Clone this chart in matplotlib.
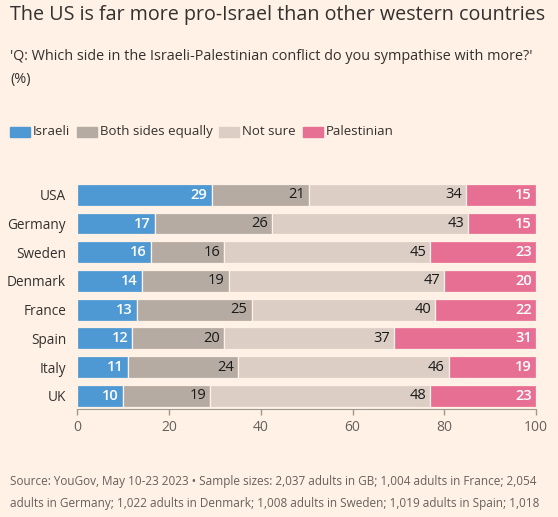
import matplotlib
matplotlib.use("Agg")
import matplotlib.pyplot as plt
from matplotlib.patches import Rectangle

countries = ["USA", "Germany", "Sweden", "Denmark", "France", "Spain", "Italy", "UK"]
# unrounded shares; labels show the rounded values
israeli = [29.3, 16.9, 16, 14, 13, 12, 11, 10]
both = [21.2, 25.6, 16, 19, 25, 20, 24, 19]
not_sure = [34.3, 42.7, 45, 47, 40, 37, 46, 48]
palestinian = [15.2, 14.8, 23, 20, 22, 31, 19, 23]
series_names = ["Israeli", "Both sides equally", "Not sure", "Palestinian"]
xticks = [0, 20, 40, 60, 80, 100]

bg = "#FFF1E5"
colors = ["#4E99D3", "#B5ABA2", "#DCCEC4", "#E86F94"]
label_colors = ["white", "#1A1A1A", "#1A1A1A", "white"]
txt = "#33302E"

plt.rcParams["font.family"] = ["Open Sans", "DejaVu Sans"]

W, H = 558, 517
fig = plt.figure(figsize=(W / 100, H / 100), dpi=100, facecolor=bg)
ax = fig.add_axes([77.3 / W, 1 - 409.3 / H, (536 - 77.3) / W, (409.3 - 180) / H])
ax.set_facecolor(bg)

ypos = list(range(len(countries)))
left = [0] * len(countries)
for vals, col, lc in zip([israeli, both, not_sure, palestinian], colors, label_colors):
    ax.barh(ypos, vals, left=left, height=0.757, color=col, edgecolor=bg, linewidth=0.9)
    for y, l, v in zip(ypos, left, vals):
        ax.text(l + v - 0.9, y, str(round(v)), ha="right", va="center", fontsize=10.5,
                color=lc, fontweight="semibold" if lc == "white" else "normal")
    left = [a + b for a, b in zip(left, vals)]

ax.set_xlim(0, 100)
ax.set_ylim(7.474, -0.52)
ax.set_yticks(ypos)
ax.set_yticklabels(countries, fontsize=9.8, color=txt)
ax.tick_params(axis="y", length=0, pad=8)
ax.set_xticks(xticks)
ax.set_xticklabels([str(t) for t in xticks], fontsize=10, color="#66605C")
ax.tick_params(axis="x", length=4.5, color="#A09890", width=1, pad=3)
for s in ["top", "right", "left"]:
    ax.spines[s].set_visible(False)
ax.spines["bottom"].set_color("#A09890")

fig.text(10 / W, 1 - 15 / H, "The US is far more pro-Israel than other western countries",
         fontsize=14.2, color=txt, va="center", ha="left")
fig.text(10 / W, 1 - 56 / H,
         "'Q: Which side in the Israeli-Palestinian conflict do you sympathise with more?'",
         fontsize=10.4, color=txt, va="center", ha="left")
fig.text(10 / W, 1 - 80 / H, "(%)", fontsize=10.4, color=txt, va="center", ha="left")

# legend
lx = [10, 77, 219, 303]
for x, name, col in zip(lx, series_names, colors):
    fig.patches.append(Rectangle((x / W, 1 - 137 / H), 20 / W, 10 / H,
                                 transform=fig.transFigure, color=col))
    fig.text((x + 23) / W, 1 - 131.5 / H, name, fontsize=9.5, color=txt,
             va="center", ha="left")

foot = "#66605C"
fig.text(10 / W, 1 - 481 / H,
         "Source: YouGov, May 10-23 2023 \u2022 Sample sizes: 2,037 adults in GB; 1,004 adults in France; 2,054",
         fontsize=8.5, color=foot, va="center", ha="left")
fig.text(10 / W, 1 - 504 / H,
         "adults in Germany; 1,022 adults in Denmark; 1,008 adults in Sweden; 1,019 adults in Spain; 1,018",
         fontsize=8.5, color=foot, va="center", ha="left")

fig.savefig("out.png", dpi=100, facecolor=bg)
